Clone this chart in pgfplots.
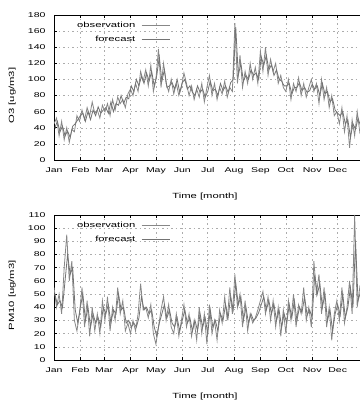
\documentclass[border=0pt]{standalone}
\usepackage{pgfplots}
\pgfplotsset{compat=1.18}
\usepackage{pgfplotstable}
\usepackage{fontspec}
\setmainfont[FakeStretch=1.5]{Liberation Sans}
\definecolor{obs}{RGB}{135,135,135}
\definecolor{fc}{RGB}{115,115,115}

\pgfplotstableread{
d v
0 45
3 52
6 30
9 48
12 25
15 40
18 22
21 38
24 35
27 55
30 48
33 62
36 50
39 65
42 55
45 72
48 58
51 62
54 52
57 68
60 60
63 70
66 55
69 75
72 62
75 78
78 70
81 75
84 65
87 82
90 88
93 80
96 95
99 85
102 110
105 98
108 112
111 92
114 118
117 85
120 100
123 138
126 90
129 120
132 95
135 85
138 100
141 82
144 95
147 80
150 90
153 108
156 95
159 80
162 92
165 75
168 88
171 78
174 95
177 72
180 90
183 105
186 80
189 95
192 75
195 90
198 82
201 98
204 78
207 90
210 85
213 170
216 95
219 130
222 90
225 110
228 95
231 120
234 100
237 115
240 95
243 135
246 110
249 140
252 105
255 125
258 110
261 120
264 95
267 105
270 90
273 85
276 100
279 75
282 95
285 85
288 102
291 80
294 95
297 78
300 90
303 100
306 85
309 95
312 70
315 100
318 75
321 90
324 65
327 80
330 55
333 60
336 45
339 65
342 35
345 55
348 15
351 50
354 30
357 60
360 35
363 50
}\othreeobs

\pgfplotstableread{
d v
1 40
4 48
7 35
10 42
13 30
16 36
19 28
22 42
25 45
28 50
31 55
34 58
37 48
40 60
43 50
46 62
49 55
52 66
55 58
58 62
61 65
64 58
67 72
70 60
73 70
76 68
79 80
82 70
85 78
88 76
91 92
94 85
97 100
100 92
103 104
106 95
109 108
112 98
115 110
118 92
121 105
124 128
127 98
130 112
133 90
136 92
139 96
142 88
145 100
148 84
151 96
154 100
157 88
160 92
163 84
166 80
169 92
172 84
175 88
178 78
181 85
184 98
187 86
190 88
193 80
196 95
199 86
202 92
205 84
208 96
211 100
214 165
217 105
220 120
223 98
226 105
229 100
232 112
235 105
238 108
241 100
244 128
247 118
250 130
253 112
256 118
259 105
262 112
265 100
268 98
271 92
274 92
277 95
280 82
283 90
286 90
289 96
292 86
295 90
298 84
301 86
304 94
307 88
310 92
313 80
316 95
319 82
322 85
325 72
328 76
331 62
334 58
337 55
340 60
343 45
346 50
349 28
352 45
355 38
358 52
361 42
364 48
}\othreefc

\pgfplotstableread{
d v
0 55
3 40
6 50
9 35
12 70
15 95
18 60
21 75
24 30
27 22
30 35
33 55
36 25
39 45
42 18
45 40
48 22
51 35
54 20
57 45
60 30
63 48
66 22
69 40
72 30
75 55
78 35
81 45
84 22
87 28
90 20
93 30
96 22
99 35
102 58
105 38
108 40
111 32
114 42
117 20
120 12
123 25
126 38
129 48
132 30
135 42
138 25
141 20
144 35
147 18
150 30
153 42
156 25
159 35
162 18
165 30
168 15
171 40
174 20
177 35
180 12
183 42
186 20
189 30
192 15
195 38
198 28
201 48
204 30
207 55
210 35
213 65
216 40
219 50
222 25
225 45
228 22
231 35
234 28
237 32
240 38
243 45
246 52
249 35
252 48
255 30
258 45
261 25
264 40
267 18
270 38
273 20
276 45
279 30
282 50
285 25
288 42
291 35
294 55
297 30
300 40
303 25
306 75
309 50
312 65
315 35
318 55
321 25
324 40
327 15
330 35
333 45
336 30
339 55
342 28
345 40
348 60
351 35
354 110
357 40
360 55
363 45
}\pmobs

\pgfplotstableread{
d v
1 50
4 42
7 45
10 40
13 60
16 80
19 65
22 70
25 38
28 28
31 40
34 50
37 30
40 40
43 25
46 35
49 28
52 32
55 25
58 40
61 35
64 42
67 28
70 38
73 35
76 50
79 38
82 40
85 28
88 30
91 25
94 28
97 25
100 32
103 48
106 38
109 40
112 35
115 38
118 25
121 18
124 28
127 35
130 42
133 32
136 38
139 28
142 25
145 32
148 22
151 30
154 38
157 28
160 32
163 22
166 30
169 22
172 35
175 25
178 32
181 20
184 38
187 25
190 30
193 22
196 35
199 30
202 42
205 32
208 48
211 38
214 58
217 42
220 48
223 30
226 40
229 28
232 35
235 30
238 32
241 36
244 42
247 48
250 38
253 45
256 35
259 42
262 30
265 38
268 25
271 35
274 28
277 42
280 32
283 45
286 30
289 40
292 36
295 48
298 34
301 38
304 32
307 65
310 50
313 58
316 40
319 50
322 30
325 38
328 22
331 35
334 42
337 34
340 50
343 32
346 40
349 55
352 40
355 90
358 45
361 52
364 45
}\pmfc

\pgfplotsset{
  myaxis/.style={
    scale only axis,
    width=310pt, height=145pt,
    xmin=0, xmax=365,
    xtick={0,31,59,90,120,151,181,212,243,273,304,334},
    xticklabels={Jan,Feb,Mar,Apr,May,Jun,Jul,Aug,Sep,Oct,Nov,Dec},
    grid=major,
    major grid style={dash pattern=on 1.5pt off 3pt, gray!65, line width=0.5pt},
    tick style={black, line width=0.6pt},
    major tick length=3pt,
    tick align=inside,
    axis line style={black, line width=0.9pt},
    tick label style={font=\fontsize{7}{8}\selectfont},
    xticklabel style={yshift=-4pt},
    yticklabel style={xshift=-5pt},
    label style={font=\fontsize{7.5}{8}\selectfont},
    /pgf/number format/assume math mode=true,
    xlabel={Time [month]},
    xlabel style={at={(axis description cs:0,0)}, anchor=center, xshift=151pt, yshift=-37pt},
    ylabel style={at={(axis description cs:-0.135,0.445)}, anchor=center},
    legend plot pos=right,
    legend cell align=right,
    legend image code/.code={\draw[#1, line width=0.7pt] (0pt,0pt) -- (28pt,0pt);},
    legend style={at={(axis description cs:0,1)}, anchor=north west, xshift=14pt, yshift=-3pt,
      draw=none, fill=none, font=\fontsize{7.5}{8}\selectfont, row sep=3pt,
      nodes={inner xsep=6pt}},
  }
}

\begin{document}
\begin{tikzpicture}
\begin{axis}[myaxis, at={(54pt,243pt)}, anchor=south west,
  ymin=0, ymax=180, ytick={0,20,...,180},
  ylabel={O3 [ug/m3]}]
\addplot[obs, line width=0.8pt] table[x=d,y=v] {\othreeobs};
\addlegendentry{observation}
\addplot[fc, line width=0.8pt] table[x=d,y=v] {\othreefc};
\addlegendentry{forecast}
\end{axis}
\begin{axis}[myaxis, at={(54pt,43pt)}, anchor=south west,
  ymin=0, ymax=110, ytick={0,10,...,110},
  ylabel={PM10 [ug/m3]}]
\addplot[obs, line width=0.8pt] table[x=d,y=v] {\pmobs};
\addlegendentry{observation}
\addplot[fc, line width=0.8pt] table[x=d,y=v] {\pmfc};
\addlegendentry{forecast}
\end{axis}
\pgfresetboundingbox
\useasboundingbox (0,0) rectangle (359pt,403pt);
\end{tikzpicture}
\end{document}
